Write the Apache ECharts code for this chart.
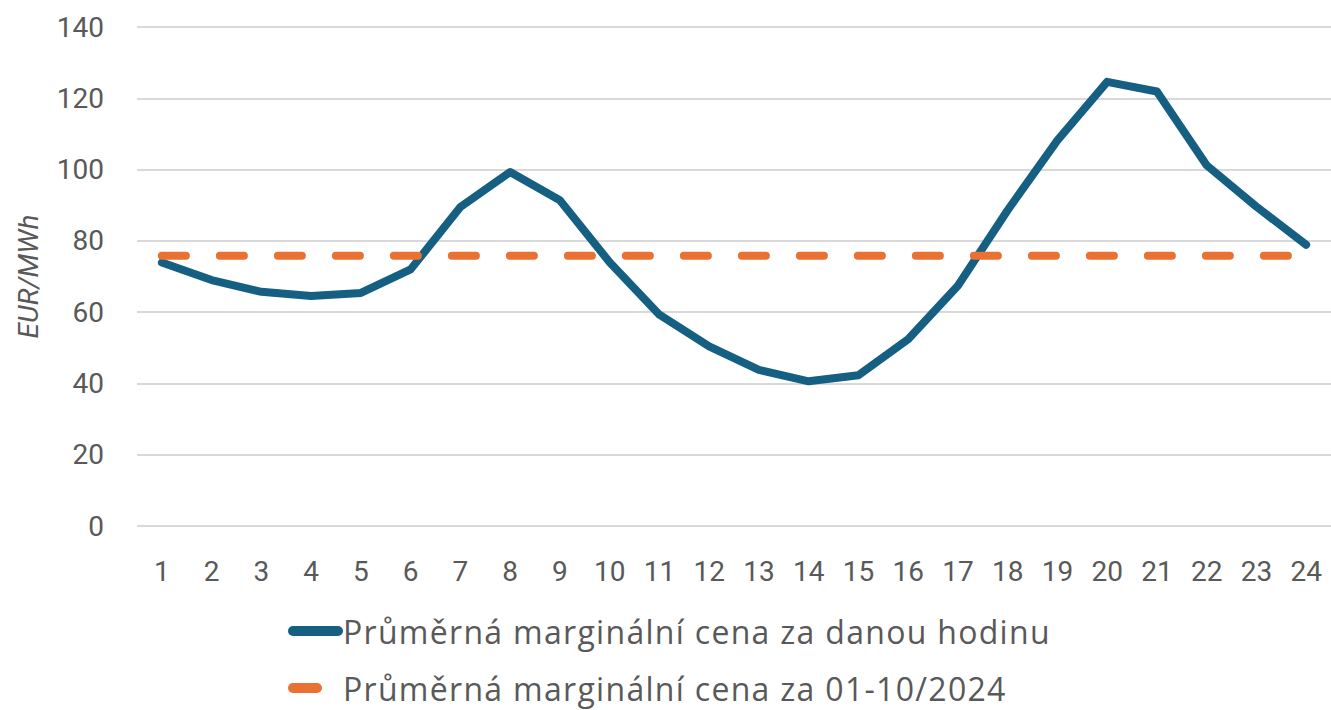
<!DOCTYPE html>
<html>
<head>
<meta charset="utf-8">
<script src="https://cdn.jsdelivr.net/npm/echarts@6/dist/echarts.min.js"></script>
<style>
  html, body { margin: 0; padding: 0; background: #fff; }
  #chart { width: 1331px; height: 710px; }
</style>
</head>
<body>
<div id="chart"></div>
<script>
// hodiny dne
const hours = ['1', '2', '3', '4', '5', '6', '7', '8', '9', '10', '11', '12',
  '13', '14', '15', '16', '17', '18', '19', '20', '21', '22', '23', '24']
// průměrná marginální cena za danou hodinu (EUR/MWh)
const hourlyPrice = [73.9, 69.0, 65.7, 64.5, 65.4, 72.0, 89.5, 99.3, 91.4, 74.0, 59.3, 50.4,
  43.8, 40.6, 42.3, 52.4, 67.4, 88.6, 108.2, 124.6, 121.9, 101.2, 89.6, 78.9]
// průměr za 01-10/2024
const periodAvg = 75.8
const periodLine = hours.map(() => periodAvg)

const seriesNames = ['Průměrná marginální cena za danou hodinu', 'Průměrná marginální cena za 01-10/2024']

const chart = echarts.init(document.getElementById('chart'), null, { renderer: 'svg' })
chart.setOption({
  animation: false,
  textStyle: { fontFamily: 'Roboto' },
  grid: {
    left: 137,
    right: 0,
    top: 27,
    bottom: 184
  },
  legend: {
    orient: 'vertical',
    left: 283,
    top: 610,
    itemWidth: 45,
    itemHeight: 10,
    itemGap: 25,
    lineStyle: { width: 10 },
    textStyle: {
      fontFamily: 'Open Sans',
      fontSize: 32,
      color: '#595959'
    },
    data: seriesNames
  },
  xAxis: {
    type: 'category',
    data: hours,
    axisLine: { show: false },
    axisTick: { show: false },
    axisLabel: {
      fontSize: 28,
      color: '#595959',
      margin: 31
    }
  },
  yAxis: {
    type: 'value',
    min: 0,
    max: 140,
    interval: 20,
    name: 'EUR/MWh',
    nameLocation: 'middle',
    nameGap: 95,
    nameTextStyle: {
      fontSize: 28,
      fontStyle: 'italic',
      color: '#595959'
    },
    axisLabel: {
      fontSize: 28,
      color: '#595959',
      margin: 33
    },
    splitLine: {
      lineStyle: { color: '#d9d9d9', width: 2 }
    }
  },
  series: [
    {
      name: seriesNames[0],
      type: 'line',
      data: hourlyPrice,
      symbol: 'none',
      lineStyle: {
        color: '#156082',
        width: 8,
        cap: 'round',
        join: 'round'
      },
      itemStyle: { color: '#156082' },
      z: 3
    },
    {
      name: seriesNames[1],
      type: 'line',
      data: periodLine,
      symbol: 'none',
      lineStyle: {
        color: '#e97132',
        width: 8,
        type: [24, 34],
        cap: 'round'
      },
      itemStyle: { color: '#e97132' },
      z: 4
    }
  ]
})

// legenda v originale ma sirsi pismo, dorovnat prostrkanim
function spreadLegend () {
  document.querySelectorAll('#chart text').forEach(t => {
    if (seriesNames.indexOf(t.textContent) >= 0) {
      t.setAttribute('letter-spacing', '1.3')
    }
  })
}
chart.on('finished', spreadLegend)
spreadLegend()
</script>
</body>
</html>
